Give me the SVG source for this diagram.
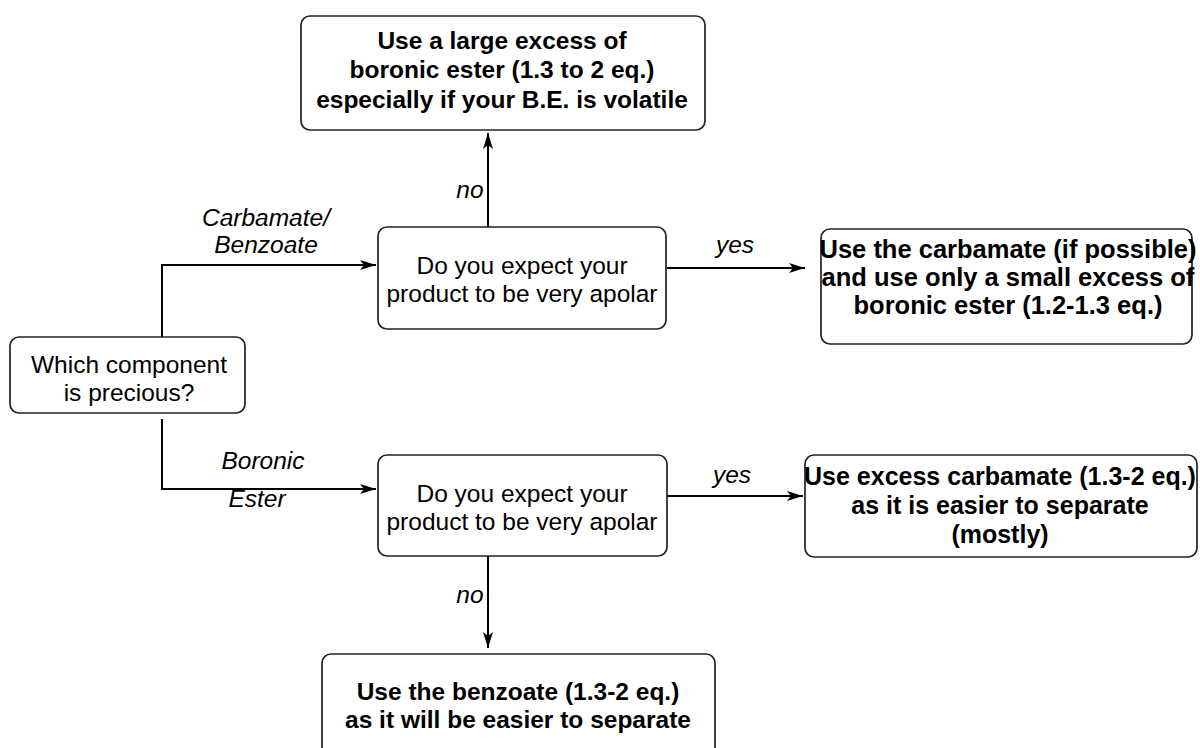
<svg xmlns="http://www.w3.org/2000/svg" width="1200" height="748" viewBox="0 0 1200 748">
<defs>
<style>
.box{fill:#fff;stroke:#222;stroke-width:1.7}
.t{font-family:"Liberation Sans",Arial,sans-serif;font-size:24.5px;fill:#000;text-anchor:middle}
.b{font-weight:bold}
.i{font-style:italic}
.c{fill:none;stroke:#000;stroke-width:2}
</style>
<marker id="ah" markerUnits="userSpaceOnUse" markerWidth="18" markerHeight="12" refX="16" refY="5" orient="auto">
<path d="M0,0 L16,5 L0,10 L4,5 z" fill="#000"/>
</marker>
</defs>
<rect width="1200" height="748" fill="#fff"/>
<g id="connectors">
<path class="c" d="M162,337 V265 H376" marker-end="url(#ah)"/>
<path class="c" d="M162,419 V489 H376" marker-end="url(#ah)"/>
<path class="c" d="M488,227 V133" marker-end="url(#ah)"/>
<path class="c" d="M667,268 H805" marker-end="url(#ah)"/>
<path class="c" d="M667,496 H803" marker-end="url(#ah)"/>
<path class="c" d="M488,556 V648" marker-end="url(#ah)"/>
<text class="t i" x="266" y="226">Carbamate/</text>
<text class="t i" x="266" y="253">Benzoate</text>
<text class="t i" x="263" y="469">Boronic</text>
<text class="t i" x="257" y="507">Ester</text>
<text class="t i" x="470" y="198">no</text>
<text class="t i" x="470" y="603">no</text>
<text class="t i" x="735" y="253">yes</text>
<text class="t i" x="732" y="483">yes</text>
</g>
<g id="n_top">
<rect class="box" x="301" y="16" width="404" height="114" rx="9"/>
<text class="t b" x="502" y="49">Use a large excess of</text>
<text class="t b" x="502" y="78">boronic ester (1.3 to 2 eq.)</text>
<text class="t b" x="502" y="108">especially if your B.E. is volatile</text>
</g>
<g id="n_start">
<rect class="box" x="10" y="337" width="235" height="76" rx="9"/>
<text class="t" x="129" y="373">Which component</text>
<text class="t" x="129" y="401">is precious?</text>
</g>
<g id="n_q1">
<rect class="box" x="378" y="227" width="288" height="102" rx="9"/>
<text class="t" x="522" y="274">Do you expect your</text>
<text class="t" x="522" y="302">product to be very apolar</text>
</g>
<g id="n_r1">
<rect class="box" x="821" y="229" width="371" height="115" rx="9"/>
<text class="t b" x="1008" y="258" style="font-size:25.5px">Use the carbamate (if possible)</text>
<text class="t b" x="1008" y="286" style="font-size:25.5px">and use only a small excess of</text>
<text class="t b" x="1008" y="314" style="font-size:25.5px">boronic ester (1.2-1.3 eq.)</text>
</g>
<g id="n_q2">
<rect class="box" x="378" y="455" width="289" height="101" rx="9"/>
<text class="t" x="522" y="502">Do you expect your</text>
<text class="t" x="522" y="530">product to be very apolar</text>
</g>
<g id="n_r2">
<rect class="box" x="805" y="455" width="392" height="102" rx="9"/>
<text class="t b" x="1000" y="485" style="font-size:25px">Use excess carbamate (1.3-2 eq.)</text>
<text class="t b" x="1000" y="514" style="font-size:25px">as it is easier to separate</text>
<text class="t b" x="1000" y="543" style="font-size:25px">(mostly)</text>
</g>
<g id="n_bottom">
<rect class="box" x="322" y="654" width="393" height="114" rx="9"/>
<text class="t b" x="518" y="700">Use the benzoate (1.3-2 eq.)</text>
<text class="t b" x="518" y="728">as it will be easier to separate</text>
</g>
</svg>
